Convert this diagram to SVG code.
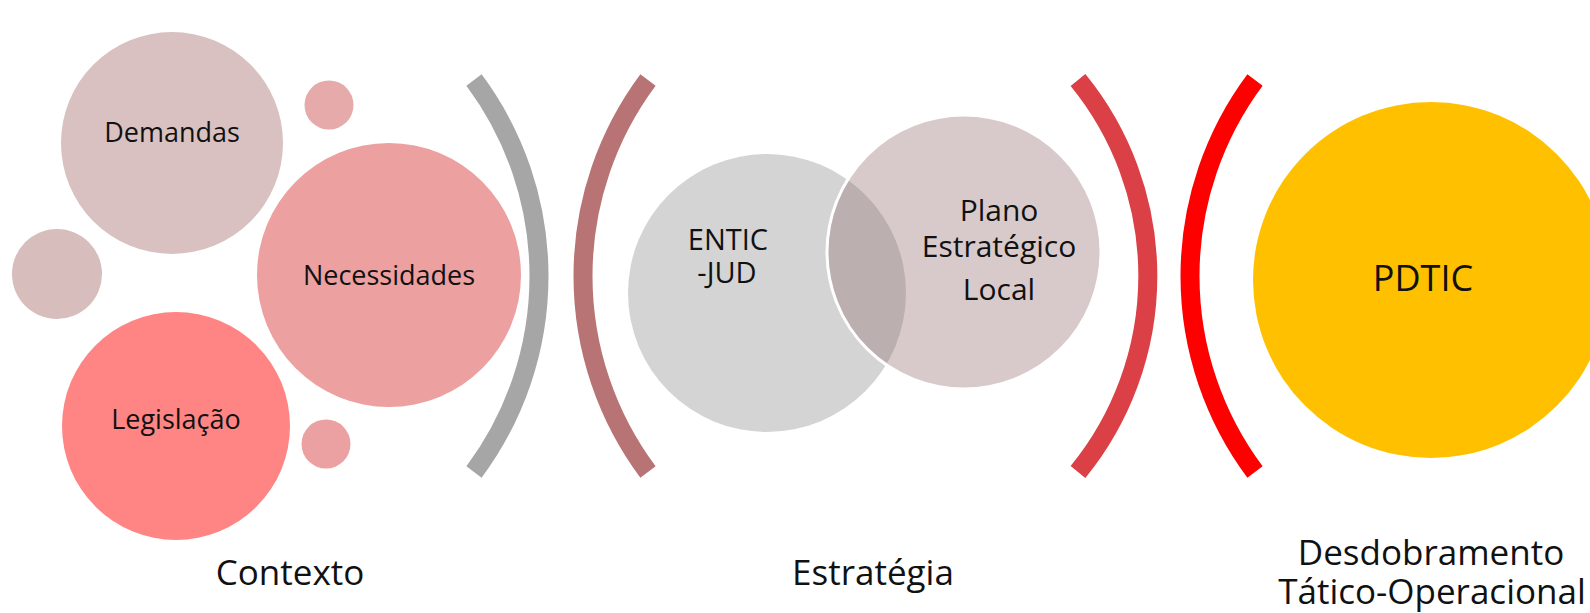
<svg xmlns="http://www.w3.org/2000/svg" width="1590" height="613" viewBox="0 0 1590 613">
  <style>
    .t { font-family: "Open Sans", "Noto Sans", "DejaVu Sans", sans-serif; fill: #111111; text-anchor: middle; }
    .n { font-size: 27px; }
    .s { font-size: 30px; }
    .e { font-size: 29px; }
    .b { font-size: 35px; }
    .arc { fill: none; stroke-width: 19; stroke-linecap: butt; }
  </style>
  <defs>
    <clipPath id="planoClip">
      <circle cx="964" cy="252" r="137"/>
    </clipPath>
  </defs>
  <rect width="1590" height="613" fill="#ffffff"/>

  <g id="small-left"><circle cx="57" cy="274" r="45" fill="#D8BDBD"/></g>
  <g id="small-top"><circle cx="329" cy="105" r="24.5" fill="#E6AAAA"/></g>
  <g id="small-bottom"><circle cx="326" cy="444" r="24.5" fill="#EBA1A1"/></g>

  <g id="demandas">
    <circle cx="172" cy="143" r="111" fill="#D9C1C1"/>
    <text class="t n" x="172" y="142">Demandas</text>
  </g>
  <g id="necessidades">
    <circle cx="389" cy="275" r="132" fill="#EDA0A0"/>
    <text class="t n" x="389" y="285">Necessidades</text>
  </g>
  <g id="legislacao">
    <circle cx="176" cy="426" r="114" fill="#FF8585"/>
    <text class="t n" x="176" y="429">Legislação</text>
  </g>

  <g id="entic">
    <circle cx="767" cy="293" r="139" fill="#D4D4D4"/>
  </g>
  <g id="plano">
    <circle cx="964" cy="252" r="137" fill="#D8CACA"/>
    <circle cx="767" cy="293" r="139" fill="#BCAFAF" clip-path="url(#planoClip)"/>
    <circle cx="964" cy="252" r="137" fill="none" stroke="#ffffff" stroke-width="3"/>
    <text class="t s" x="999" y="221">Plano</text>
    <text class="t s" x="999" y="257">Estratégico</text>
    <text class="t s" x="999" y="300">Local</text>
  </g>
  <g id="entic-label">
    <text class="t e" x="728" y="250">ENTIC</text>
    <text class="t e" x="727" y="283">-JUD</text>
  </g>

  <g id="pdtic">
    <circle cx="1431" cy="280" r="178" fill="#FFC000"/>
    <text class="t" style="font-size:36px" x="1423" y="291">PDTIC</text>
  </g>

  <g id="connectors">
    <path class="arc" stroke="#A6A6A6" d="M474 80 A328 328 0 0 1 474 472"/>
    <path class="arc" stroke="#B87474" d="M648 80 A328 328 0 0 0 648 472"/>
    <path class="arc" stroke="#DA4045" d="M1078 80 A310 310 0 0 1 1078 472"/>
    <path class="arc" stroke="#FF0000" d="M1255 80 A328 328 0 0 0 1255 472"/>
  </g>

  <g id="labels">
    <text class="t b" x="290" y="585">Contexto</text>
    <text class="t b" x="873" y="585">Estratégia</text>
    <text class="t b" x="1431" y="565">Desdobramento</text>
    <text class="t b" x="1432" y="604">Tático-Operacional</text>
  </g>
</svg>
